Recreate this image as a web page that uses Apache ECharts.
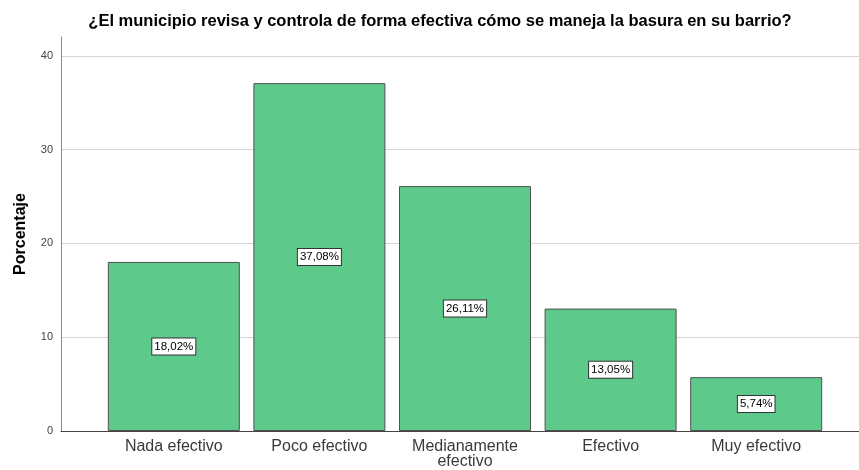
<!DOCTYPE html>
<html>
<head>
<meta charset="utf-8">
<script src="https://cdn.jsdelivr.net/npm/echarts@6/dist/echarts.min.js"></script>
<style>html,body{margin:0;padding:0;background:#fff}#c{width:859px;height:470px}</style>
</head>
<body>
<div id="c"></div>
<script>
const titleText = '¿El municipio revisa y controla de forma efectiva cómo se maneja la basura en su barrio?';
const categories = ['Nada efectivo', 'Poco efectivo', 'Medianamente\nefectivo', 'Efectivo', 'Muy efectivo'];
const percentages = [18.02, 37.08, 26.11, 13.05, 5.74];
const yTicks = [0, 10, 20, 30, 40];
const yName = 'Porcentaje';

const chart = echarts.init(document.getElementById('c'), null, {renderer: 'canvas'});
const font = 'Liberation Sans, Arial, sans-serif';
chart.setOption({
  animation: false,
  backgroundColor: '#fff',
  title: {
    text: titleText, left: 435, textAlign: 'center', top: 8,
    textStyle: {fontFamily: font, fontSize: 16.5, fontWeight: 'bold', color: '#000'}
  },
  grid: [
    {left: 61, right: 0, top: 37, bottom: 39},
    {left: 101, width: 728, top: 37, bottom: 39}
  ],
  xAxis: [
    {gridIndex: 0, type: 'value', min: 0, max: 1, axisLabel: {show: false}, axisTick: {show: false},
     splitLine: {show: false}, axisLine: {show: true, onZero: false, lineStyle: {color: '#444', width: 1}}},
    {gridIndex: 1, type: 'category', data: categories, axisLine: {show: false}, axisTick: {show: false},
     axisLabel: {fontFamily: font, fontSize: 16, color: '#3a3a3a', margin: 8, lineHeight: 15, interval: 0}}
  ],
  yAxis: [
    {gridIndex: 0, type: 'value', min: 0, max: 42, interval: 10,
     name: yName, nameLocation: 'middle', nameGap: 32,
     nameTextStyle: {fontFamily: font, fontSize: 16, fontWeight: 'bold', color: '#000'},
     axisLine: {show: true, lineStyle: {color: '#8a8a8a', width: 1}},
     axisTick: {show: false},
     axisLabel: {fontFamily: font, fontSize: 11, color: '#444', margin: 8, showMaxLabel: false,
       formatter: v => yTicks.includes(v) ? String(v) : ''},
     splitLine: {show: true, showMaxLine: false, showMinLine: false, lineStyle: {color: '#d6d6d6', width: 1}}},
    {gridIndex: 1, type: 'value', min: 0, max: 42, show: false, splitLine: {show: false}}
  ],
  series: [{
    type: 'bar', xAxisIndex: 1, yAxisIndex: 1,
    data: percentages, barWidth: 132,
    itemStyle: {color: '#5dca8b', borderColor: '#505050', borderWidth: 1},
    label: {
      show: true, position: 'inside',
      formatter: p => p.value.toFixed(2).replace('.', ',') + '%',
      fontFamily: font, fontSize: 11.5, color: '#000',
      backgroundColor: '#fff', borderColor: '#333', borderWidth: 1,
      padding: [2, 2, 1, 2], lineHeight: 13
    }
  }]
});
</script>
</body>
</html>
